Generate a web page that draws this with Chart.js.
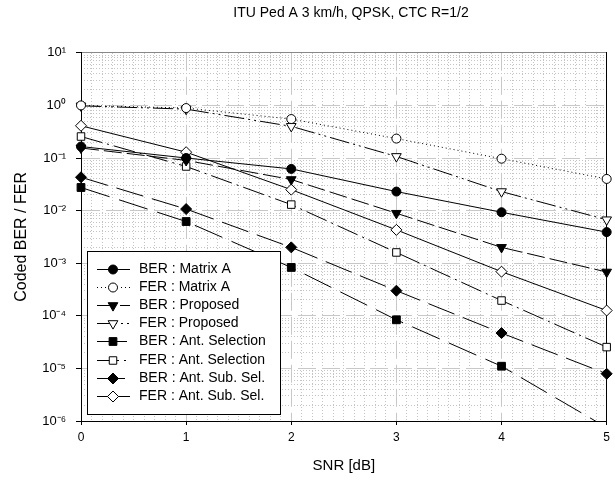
<!DOCTYPE html>
<html lang="en">
<head>
  <meta charset="UTF-8">
  <title>ITU Ped A 3 km/h, QPSK, CTC R=1/2</title>
  <script src="https://cdn.jsdelivr.net/npm/chart.js"></script>
  <style>
    body { margin: 0; background: #fff; }
    canvas { display: block; }
  </style>
</head>
<body>
  <canvas id="berChart" width="615" height="481"></canvas>
  <script>
    // SNR points (dB)
    var snr = [0, 1, 2, 3, 4, 5];

    // values
    var berMatrixA  = [0.165, 0.10, 0.062, 0.023, 0.0093, 0.0039];
    var ferMatrixA  = [1.0, 0.89, 0.55, 0.234, 0.097, 0.040];
    var berProposed = [0.155, 0.09, 0.039, 0.0089, 0.002, 0.00068];
    var ferProposed = [0.98, 0.85, 0.40, 0.107, 0.023, 0.0067];
    var berAntSel   = [0.0275, 0.0062, 0.00083, 0.000084, 0.000011, 0.00000075];
    var ferAntSel   = [0.256, 0.069, 0.013, 0.0016, 0.000195, 0.0000254];
    var berAntSub   = [0.043, 0.0107, 0.002, 0.0003, 0.000047, 0.0000079];
    var ferAntSub   = [0.41, 0.129, 0.025, 0.0043, 0.00069, 0.000126];

    var seriesLabels = [
      'BER : Matrix A', 'FER : Matrix A',
      'BER : Proposed', 'FER : Proposed',
      'BER : Ant. Selection', 'FER : Ant. Selection',
      'BER : Ant. Sub. Sel.', 'FER : Ant. Sub. Sel.'
    ];

    var xTickLabels = ['0', '1', '2', '3', '4', '5'];
    var yTickValues = [1e-6, 1e-5, 1e-4, 1e-3, 1e-2, 1e-1, 1, 10];
    var yTickLabels = ['10\u207B\u2076', '10\u207B\u2075', '10\u207B\u2074', '10\u207B\u00B3',
                       '10\u207B\u00B2', '10\u207B\u00B9', '10\u2070', '10\u00B9'];

    // minor grid positions
    var xMinorTicks = [];
    for (var i = 1; i < 50; i++) if (i % 10) xMinorTicks.push(i / 10);
    var yMinorTicks = [];
    for (var e = -6; e < 1; e++) for (var m = 2; m <= 9; m++) yMinorTicks.push(m * Math.pow(10, e));

    var FONT = '"Liberation Sans", Arial, sans-serif';
    Chart.defaults.font.family = FONT;
    Chart.defaults.color = '#000';

    function series(label, data, style, size, filled, dash, rot) {
      return {
        label: label,
        data: data.map(function (v, k) { return { x: snr[k], y: v }; }),
        borderColor: '#000',
        borderWidth: 1,
        borderDash: dash,
        tension: 0,
        pointStyle: style,
        pointRadius: size,
        pointHoverRadius: size,
        pointRotation: rot || 0,
        pointBackgroundColor: filled ? '#000' : '#fff',
        pointBorderColor: '#000',
        pointBorderWidth: 1,
        clip: { left: 8, right: 8, top: 8, bottom: 0 }
      };
    }

    var datasets = [
      series(seriesLabels[0], berMatrixA, 'circle', 4.5, true, []),
      series(seriesLabels[1], ferMatrixA, 'circle', 4.5, false, [1, 3]),
      series(seriesLabels[2], berProposed, 'triangle', 5.6, true, [18, 5], 180),
      series(seriesLabels[3], ferProposed, 'triangle', 5.6, false, [20, 4, 2, 4, 2, 4], 180),
      series(seriesLabels[4], berAntSel, 'rect', 5.5, true, [30, 10]),
      series(seriesLabels[5], ferAntSel, 'rect', 5.3, false, [22, 5, 2, 5]),
      series(seriesLabels[6], berAntSub, 'rectRot', 5.5, true, [28, 9]),
      series(seriesLabels[7], ferAntSub, 'rectRot', 5.5, false, [])
    ];

    // legend box drawn inside the plot, on top of the lines
    var boxedLegend = {
      id: 'boxedLegend',
      afterDraw: function (chart) {
        var ctx = chart.ctx, area = chart.chartArea;
        var x0 = Math.round(area.left) + 6, y0 = Math.round(area.top) + 198, w = 193, h = 163;
        ctx.save();
        ctx.fillStyle = '#fff';
        ctx.fillRect(x0, y0, w, h);
        ctx.strokeStyle = '#000';
        ctx.lineWidth = 1;
        ctx.strokeRect(x0 + 0.5, y0 + 0.5, w, h);
        ctx.font = '14px ' + FONT;
        ctx.textBaseline = 'middle';
        chart.data.datasets.forEach(function (ds, k) {
          var y = Math.round(y0 + 17.5 + k * 18.2) + 0.5;
          ctx.save();
          ctx.strokeStyle = ds.borderColor;
          ctx.lineWidth = 1;
          ctx.setLineDash(ds.borderDash);
          ctx.beginPath();
          ctx.moveTo(x0 + 10, y);
          ctx.lineTo(x0 + 43, y);
          ctx.stroke();
          ctx.setLineDash([]);
          ctx.fillStyle = ds.pointBackgroundColor;
          ctx.strokeStyle = ds.pointBorderColor;
          Chart.helpers.drawPoint(ctx, {
            pointStyle: ds.pointStyle, rotation: ds.pointRotation,
            radius: ds.pointRadius, borderWidth: 1
          }, x0 + 26, y);
          ctx.restore();
          ctx.fillStyle = '#000';
          ctx.fillText(ds.label, x0 + 52, y);
        });
        ctx.restore();
      }
    };

    // title sits centred a little right of the canvas middle
    var shiftTitle = {
      id: 'shiftTitle',
      afterLayout: function (chart) {
        if (chart.titleBlock) chart.titleBlock.left = 95;
      }
    };

    var ctx = document.getElementById('berChart').getContext('2d');
    var chart = new Chart(ctx, {
      type: 'line',
      data: { datasets: datasets },
      plugins: [shiftTitle, boxedLegend],
      options: {
        responsive: false,
        animation: false,
        devicePixelRatio: 1,
        layout: { padding: { left: 0, right: 8, top: 0, bottom: 0 } },
        plugins: {
          legend: { display: false },
          tooltip: { enabled: false },
          title: {
            display: true,
            text: 'ITU Ped A 3 km/h, QPSK, CTC R=1/2',
            color: '#000',
            font: { size: 14, weight: 'normal' },
            padding: { top: 5, bottom: 31 }
          }
        },
        scales: {
          xMinor: {
            type: 'linear', position: 'top', min: 0, max: 5,
            afterBuildTicks: function (s) { s.ticks = xMinorTicks.map(function (v) { return { value: v }; }); },
            ticks: { display: false },
            grid: { color: '#c4c4c4', drawTicks: false },
            border: { display: true, color: '#888', dash: [1, 2] },
            afterFit: function (s) { s.height = 0; }
          },
          yMinor: {
            type: 'logarithmic', position: 'right', min: 1e-6, max: 10,
            afterBuildTicks: function (s) { s.ticks = yMinorTicks.map(function (v) { return { value: v }; }); },
            ticks: { display: false },
            grid: { color: '#c4c4c4', drawTicks: false },
            border: { display: true, color: '#000', dash: [1, 2] },
            afterFit: function (s) { s.width = 0; }
          },
          x: {
            type: 'linear', position: 'bottom', min: 0, max: 5,
            afterBuildTicks: function (s) { s.ticks = snr.map(function (v) { return { value: v }; }); },
            ticks: {
              autoSkip: false, padding: 5, font: { size: 12 },
              callback: function (v, k) { return xTickLabels[k]; }
            },
            grid: {
              color: '#c8c8c8', drawTicks: true, tickLength: 4,
              tickColor: '#000', tickWidth: 1, tickBorderDash: []
            },
            border: { color: '#000', width: 1, dash: [18, 6] },
            title: {
              display: true, text: 'SNR [dB]',
              font: { size: 15 }, padding: { top: 0, bottom: 6 }
            },
            afterFit: function (s) { s.height = 60; }
          },
          y: {
            type: 'logarithmic', position: 'left', min: 1e-6, max: 10,
            afterBuildTicks: function (s) { s.ticks = yTickValues.map(function (v) { return { value: v }; }); },
            ticks: {
              autoSkip: false, padding: 10, font: { size: 13 },
              callback: function (v, k) { return yTickLabels[k]; }
            },
            grid: {
              color: '#c8c8c8', drawTicks: true, tickLength: 5,
              tickColor: '#000', tickWidth: 1, tickBorderDash: []
            },
            border: { color: '#000', width: 1, dash: [18, 6] },
            title: {
              display: true, text: 'Coded BER / FER',
              font: { size: 16 }, padding: { top: 12, bottom: 0 }
            },
            afterFit: function (s) { s.width = 81; }
          }
        }
      }
    });
  </script>
</body>
</html>
